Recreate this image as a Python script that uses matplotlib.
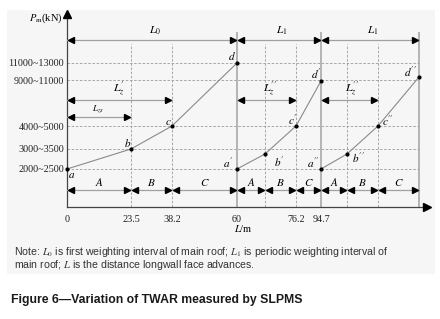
import matplotlib
matplotlib.use("Agg")
import matplotlib.pyplot as plt
from matplotlib.patches import Rectangle

plt.rcParams['mathtext.fontset'] = 'stix'
SERIF = 'Liberation Serif'
SANS = 'Liberation Sans'

# ---------------- data (schematic units) ----------------
# pressure levels (category labels) and their schematic heights
level_labels = ["2000~2500", "3000~3500", "4000~5000", "9000~11000", "11000~13000"]
level_pos = [38, 58, 81, 127, 144]

# x tick labels (advance distance, m) and schematic positions
xtick_labels = ["0", "23.5", "38.2", "60", "76.2", "94.7"]
xtick_pos = [0, 64, 105, 170, 229, 254]

# stage boundaries (schematic positions)
cycle_starts = [0, 170, 254]          # a, a', a''
cycle_ends = [170, 254, 352]          # d, d', d''
bc_bounds = [64, 105, 198, 229, 280, 311]   # b/c boundaries (dashed)

# curves: points a-b-c-d for each cycle
curve1_x = [0, 64, 105, 170]
curve1_y = [38, 58, 81, 144]
curve2_x = [170, 198, 229, 254]
curve2_y = [38, 53, 81, 126]
curve3_x = [254, 280, 311, 352]
curve3_y = [38, 53, 81, 130]
point_names = [["a", "b", "c", "d"],
               [r"a^{\prime}", r"b^{\prime}", r"c^{\prime}", r"d^{\prime}"],
               [r"a^{\prime\prime}", r"b^{\prime\prime}", r"c^{\prime\prime}", r"d^{\prime\prime}"]]

# ---------------- figure ----------------
W, H = 440, 319
fig = plt.figure(figsize=(W / 100, H / 100), dpi=100)
fig.patch.set_facecolor('white')
fig.patches.append(Rectangle((7 / W, 1 - 274 / H), 428 / W, 264 / H,
                             transform=fig.transFigure, facecolor='#f6f6f6',
                             edgecolor='none', zorder=-5))

ax = fig.add_axes([67 / W, (H - 207) / H, 360 / W, 193 / H])
ax.set_zorder(2)
ax.set_xlim(0, 360)
ax.set_ylim(0, 193)
ax.patch.set_alpha(0)
for s in ['top', 'right']:
    ax.spines[s].set_visible(False)
for s in ['left', 'bottom']:
    ax.spines[s].set_color('#444444')
    ax.spines[s].set_linewidth(0.9)

# axis arrowheads
ax.plot([0], [193], marker='^', color='k', ms=6, clip_on=False, zorder=5)
ax.plot([360], [0], marker='>', color='k', ms=6, clip_on=False, zorder=5)

grid_c = '#9a9a9a'
dash = (0, (3, 2))
x_end = cycle_ends[-1]
ax.hlines(level_pos, 0, x_end, colors=grid_c, linestyles=dash, lw=0.6)
ax.vlines(bc_bounds, 0, 163, colors=grid_c, linestyles=dash, lw=0.6)
ax.vlines(cycle_ends, 0, 175, colors='#a8a8a8', lw=1.2)

# ticks
ax.set_yticks(level_pos)
ax.set_yticklabels(level_labels, fontfamily=SERIF, fontsize=7.3, color='#222222')
ax.set_xticks(xtick_pos)
ax.set_xticklabels(xtick_labels, fontfamily=SERIF, fontsize=7.3, color='#222222')
ax.tick_params(axis='both', length=0, pad=2)
ax.tick_params(axis='x', pad=6)


def dbl_arrow(x0, x1, y):
    ax.plot([x0, x1], [y, y], color='#a0a0a0', lw=0.9, zorder=3)
    ax.plot([x0 + 3.8], [y], marker='<', color='k', ms=5, zorder=4, clip_on=False)
    ax.plot([x1 - 3.8], [y], marker='>', color='k', ms=5, zorder=4, clip_on=False)


# top interval arrows
top_y = 167
for x0, x1, lab in zip(cycle_starts, cycle_ends, [r"$L_0$", r"$L_1$", r"$L_1$"]):
    dbl_arrow(x0, x1, top_y)
    ax.text((x0 + x1) / 2 + 3, top_y + 3, lab, fontsize=8, ha='center', va='bottom',
            fontfamily=SERIF)

# L'z, L''z arrows
dbl_arrow(0, 105, 107)
ax.text(52, 110, r"$L_z^{\prime}$", fontsize=8.5, ha='center', va='bottom')
dbl_arrow(170, 229, 107)
ax.text(203, 110, r"$L_z^{\prime\prime}$", fontsize=8.5, ha='center', va='bottom')
dbl_arrow(254, 311, 107)
ax.text(285, 110, r"$L_z^{\prime\prime}$", fontsize=8.5, ha='center', va='bottom')
dbl_arrow(0, 64, 90)
ax.text(31, 92, r"$L_{zs}$", fontsize=6.5, ha='center', va='bottom')

# A / B / C arrows
stage_bounds = [[0, 64, 105, 170], [170, 198, 229, 254], [254, 280, 311, 352]]
for sb in stage_bounds:
    for i, lab in enumerate(["A", "B", "C"]):
        dbl_arrow(sb[i], sb[i + 1], 17)
        ax.text((sb[i] + sb[i + 1]) / 2, 19, "$" + lab + "$", fontsize=8,
                ha='center', va='bottom')

# curves
for cx, cy in [(curve1_x, curve1_y), (curve2_x, curve2_y), (curve3_x, curve3_y)]:
    ax.plot(cx, cy, color='#8a8a8a', lw=0.8, zorder=3)
    ax.plot(cx, cy, ls='none', marker='o', color='k', ms=2.0, zorder=4, clip_on=False)

# point labels (offsets in schematic units)
offsets = [
    [(5, -6), (-3, 6), (-4, 4), (-5, 7)],
    [(-9, 6), (14, -8), (-3, 6), (-5, 7)],
    [(-8, 6), (11, -4), (10, 5), (-9, 5)],
]
for cx, cy, names, offs in zip([curve1_x, curve2_x, curve3_x],
                               [curve1_y, curve2_y, curve3_y], point_names, offsets):
    for x, y, n, (dx, dy) in zip(cx, cy, names, offs):
        ax.text(x + dx, y + dy, "$" + n + "$", fontsize=8, ha='center', va='center')

# axis labels
fig.text(63 / W, 1 - 18 / H, r"$P_{\rm m}$(kN)", fontsize=7.5, ha='right',
         va='center', fontfamily=SERIF)
fig.text(243 / W, 1 - 229 / H, r"$L$/m", fontsize=7.5, ha='center', va='center',
         fontfamily=SERIF)

# note and caption
fig.text(14 / W, 1 - 252 / H,
         r"Note: $L_0$ is first weighting interval of main roof; $L_1$ is periodic weighting interval of",
         fontsize=7.6, ha='left', va='center', fontfamily=SANS, color='#333333')
fig.text(14 / W, 1 - 265 / H,
         r"main roof; $L$ is the distance longwall face advances.",
         fontsize=7.6, ha='left', va='center', fontfamily=SANS, color='#333333')
fig.text(11 / W, 1 - 300 / H, "Figure 6\u2014Variation of TWAR measured by SLPMS",
         fontsize=8.8, ha='left', va='center', fontfamily=SANS, fontweight='bold',
         color='#1a1a1a')

fig.savefig("out.png", dpi=100)
